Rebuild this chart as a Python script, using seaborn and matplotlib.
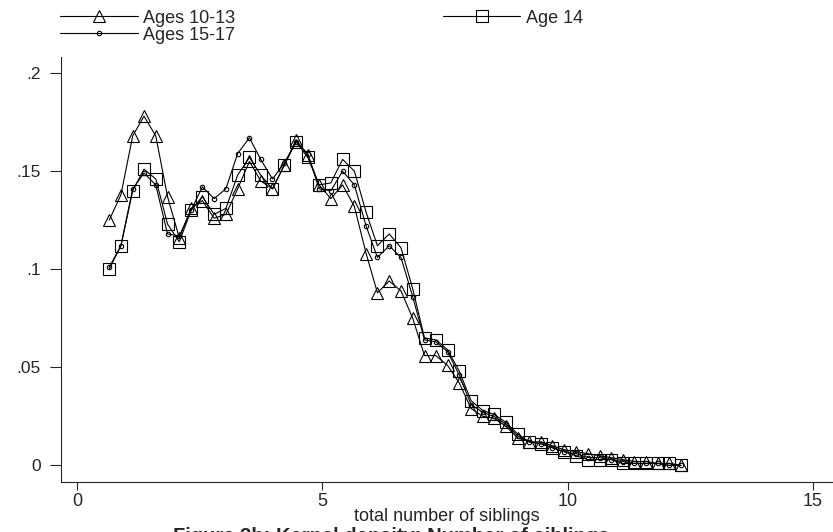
import matplotlib
matplotlib.use("Agg")
import matplotlib.pyplot as plt
import seaborn as sns

# evaluation grid of the kernel density (number of siblings)
siblings = [0.65, 0.89, 1.13, 1.36, 1.60, 1.84, 2.08, 2.32, 2.55, 2.79,
            3.03, 3.27, 3.51, 3.74, 3.98, 4.22, 4.46, 4.70, 4.93, 5.17,
            5.41, 5.65, 5.89, 6.12, 6.36, 6.60, 6.84, 7.08, 7.31, 7.55,
            7.79, 8.03, 8.27, 8.50, 8.74, 8.98, 9.22, 9.46, 9.69, 9.93,
            10.17, 10.41, 10.65, 10.88, 11.12, 11.36, 11.60, 11.84, 12.07, 12.31]

dens_10_13 = [0.125, 0.138, 0.168, 0.178, 0.168, 0.137, 0.116, 0.131, 0.135, 0.126,
              0.128, 0.141, 0.155, 0.145, 0.141, 0.153, 0.166, 0.158, 0.143, 0.136,
              0.143, 0.132, 0.108, 0.088, 0.094, 0.089, 0.075, 0.056, 0.056, 0.051,
              0.042, 0.029, 0.025, 0.024, 0.020, 0.014, 0.012, 0.012, 0.010, 0.008,
              0.007, 0.006, 0.005, 0.004, 0.003, 0.002, 0.002, 0.001, 0.001, 0.000]

dens_14 = [0.100, 0.112, 0.140, 0.151, 0.146, 0.123, 0.114, 0.130, 0.137, 0.128,
           0.131, 0.148, 0.157, 0.148, 0.141, 0.153, 0.165, 0.157, 0.143, 0.144,
           0.156, 0.150, 0.129, 0.112, 0.118, 0.111, 0.090, 0.065, 0.064, 0.059,
           0.048, 0.033, 0.028, 0.026, 0.022, 0.016, 0.012, 0.011, 0.009, 0.007,
           0.005, 0.003, 0.003, 0.003, 0.001, 0.001, 0.001, 0.001, 0.001, 0.000]

dens_15_17 = [0.101, 0.112, 0.141, 0.149, 0.143, 0.118, 0.117, 0.130, 0.142, 0.136,
              0.141, 0.159, 0.167, 0.156, 0.146, 0.154, 0.165, 0.159, 0.141, 0.140,
              0.150, 0.143, 0.122, 0.106, 0.112, 0.106, 0.086, 0.064, 0.063, 0.058,
              0.046, 0.031, 0.027, 0.025, 0.021, 0.015, 0.012, 0.011, 0.009, 0.007,
              0.006, 0.004, 0.004, 0.003, 0.002, 0.001, 0.001, 0.001, 0.000, 0.000]

labels = ["Ages 10-13", "Age 14", "Ages 15-17"]
xtick_vals = [0, 5, 10, 15]
ytick_vals = [0, 0.05, 0.1, 0.15, 0.2]
ytick_labels = ["0", ".05", ".1", ".15", ".2"]

sns.set_style("ticks")
plt.rcParams['font.family'] = ['Liberation Sans', 'DejaVu Sans']

fig = plt.figure(figsize=(8.33, 5.32), dpi=100)
ax = fig.add_axes([0.0729, 0.0934, 0.9271, 0.7995])

common = dict(color='black', lw=0.8, mfc='none', mec='black', mew=0.8)
sns.lineplot(x=siblings, y=dens_10_13, marker='^', ms=8, ax=ax, **common)
sns.lineplot(x=siblings, y=dens_14, marker='s', ms=8, ax=ax, **common)
sns.lineplot(x=siblings, y=dens_15_17, marker='o', ms=3.2, ax=ax, **common)

ax.set_xlim(-0.338, 15.41)
ax.set_ylim(-0.0086, 0.2082)
ax.set_xticks(xtick_vals)
ax.set_xticklabels([str(v) for v in xtick_vals], fontsize=13)
ax.set_yticks(ytick_vals)
ax.set_yticklabels(ytick_labels, fontsize=12.5)
ax.tick_params(axis='y', length=8, width=0.8, pad=6.5)
ax.tick_params(axis='x', length=6, width=0.8, pad=2)
sns.despine(ax=ax)
for s in ['left', 'bottom']:
    ax.spines[s].set_linewidth(0.8)
ax.set_xlabel("total number of siblings", fontsize=13, labelpad=-1.5)
ax.set_ylabel("")

# legend: two columns on top, Stata-like
h = ax.lines
fig.legend([h[0], h[2], h[1]], [labels[0], labels[2], labels[1]],
           ncol=2, loc='upper left', bbox_to_anchor=(0.072, 0.982),
           frameon=False, fontsize=13, handlelength=4.3, handletextpad=0.3,
           columnspacing=11.5, labelspacing=0.0, borderpad=0, borderaxespad=0,
           numpoints=1)

# figure caption, partly cut by the bottom edge as in the original
fig.text(0.47, 0.009, "Figure 3b: Kernel density: Number of siblings",
         ha='center', va='top', fontsize=14.5, fontweight='bold')

fig.savefig("out.png", dpi=100)
